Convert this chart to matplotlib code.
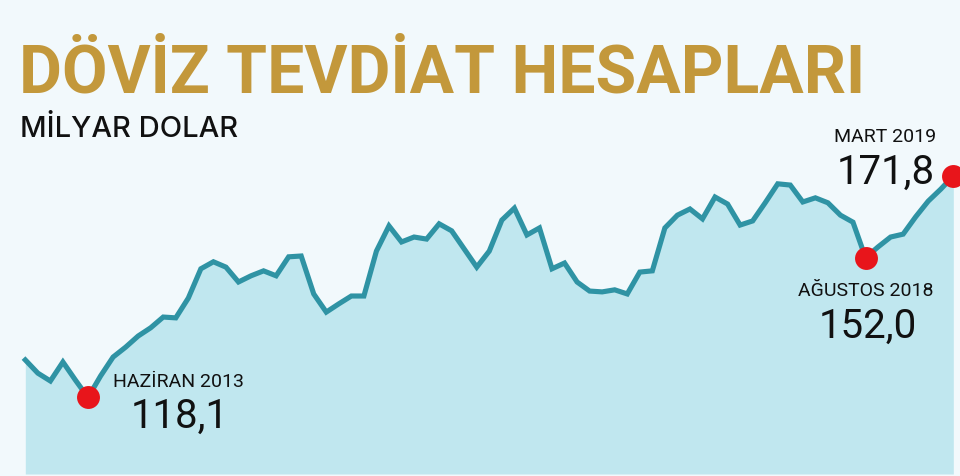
import matplotlib
matplotlib.use("Agg")
import matplotlib.pyplot as plt
import numpy as np

# Monthly data, Jan 2013 .. Mar 2019 (billion USD)
months = [f"{y}-{m:02d}" for y in range(2013, 2020) for m in range(1, 13)][:75]
values = [127.2, 124.0, 122.1, 126.7, 122.3, 118.1, 123.3, 127.9, 130.3, 133.0,
          135.0, 137.6, 137.4, 142.2, 149.3, 151.0, 149.7, 146.1, 147.6, 148.8,
          147.6, 152.2, 152.4, 143.2, 138.8, 140.8, 142.7, 142.7, 153.6, 159.7,
          155.8, 157.0, 156.5, 160.2, 158.5, 154.1, 149.7, 153.6, 161.1, 164.0,
          157.5, 159.2, 149.3, 150.7, 146.1, 143.9, 143.7, 144.2, 143.2, 148.5,
          148.8, 159.2, 162.3, 163.8, 161.4, 166.7, 165.0, 159.9, 160.9, 165.3,
          169.9, 169.6, 165.5, 166.5, 165.3, 162.3, 160.6, 152.0, 154.6, 157.0,
          157.7, 161.9, 165.7, 168.6, 171.8]
highlight_idx = [5, 67, 74]
highlight_names = ["HAZİRAN 2013", "AĞUSTOS 2018", "MART 2019"]
highlight_vals = ["118,1", "152,0", "171,8"]

title = "DÖVİZ TEVDİAT HESAPLARI"
subtitle = "MİLYAR DOLAR"

W, H = 960, 477
bg = "#f2f9fc"
fig = plt.figure(figsize=(W / 100, H / 100), dpi=100, facecolor=bg)

def fx(px):
    return px / W

def fy(py):
    return 1 - py / H

x = np.arange(len(values))
ymin, ymax = 99.55, 178.34
ax = fig.add_axes([fx(25.3), fy(475), fx(953.3 - 25.3), (475 - 150) / H])
ax.set_facecolor("none")
ax.set_xlim(0, len(values) - 1)
ax.set_ylim(ymin, ymax)
ax.axis("off")

ax.fill_between(x, values, ymin, color="#c0e7ef", lw=0, zorder=1)
ax.plot(x, values, color="#2f93a4", lw=3.7, solid_joinstyle="miter", zorder=2, clip_on=False)
ax.plot([x[i] for i in highlight_idx], [values[i] for i in highlight_idx], "o",
        color="#e8151b", ms=16.5, mec="none", zorder=3, clip_on=False)

fig.text(fx(19), fy(93), title, fontsize=47.5, fontweight="bold", family="Roboto",
         color="#c3983b", va="baseline", ha="left")
fig.text(fx(20), fy(137), subtitle, fontsize=21, family="Inter", fontweight="medium",
         color="#111111", va="baseline", ha="left")

# annotation labels
lab_pos = [(113, 387), (798, 296), (834, 142)]
num_pos = [(180, 428), (868, 338), (886, 184)]
for (lx, ly), (nx, ny), nm, vv in zip(lab_pos, num_pos, highlight_names, highlight_vals):
    fig.text(fx(lx), fy(ly), nm, fontsize=14, family="Roboto", color="#111111",
             va="baseline", ha="left")
    fig.text(fx(nx), fy(ny), vv, fontsize=29, family="Roboto", color="#111111",
             va="baseline", ha="center")

fig.savefig("out.png", dpi=100, facecolor=bg)
